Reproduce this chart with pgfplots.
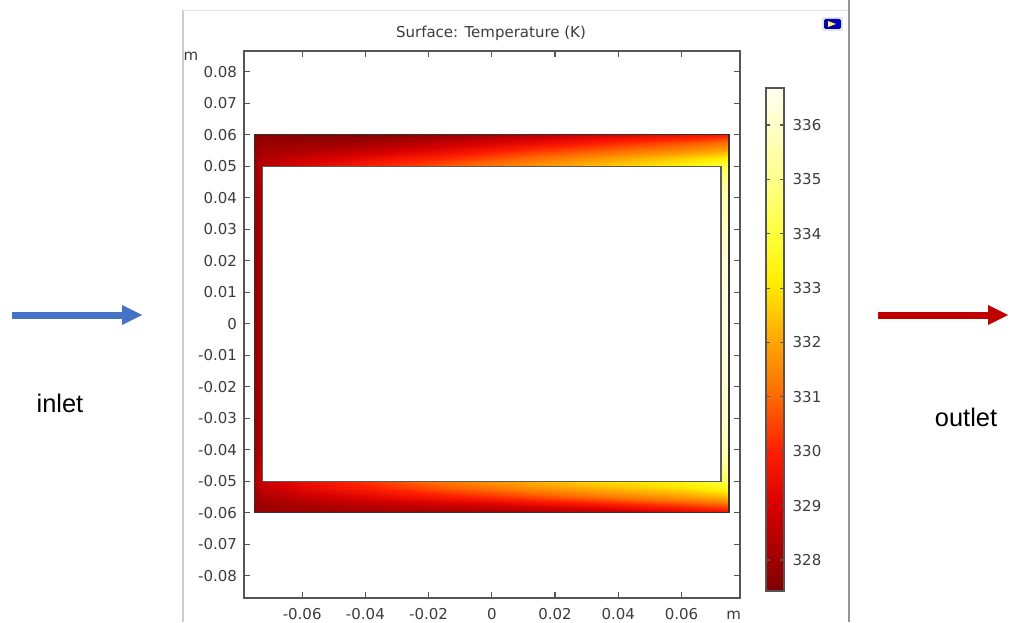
\documentclass[border=0pt]{standalone}
\usepackage{pgfplots}
\pgfplotsset{compat=1.18}
\usepackage{fontspec}
\setmainfont{DejaVu Sans}
\newfontfamily\arial{Liberation Sans}
\usetikzlibrary{calc}
\definecolor{axgray}{RGB}{85,85,85}
\definecolor{labgray}{RGB}{60,60,60}
\definecolor{outl}{RGB}{50,50,50}
\definecolor{innerl}{RGB}{90,90,90}
\definecolor{inletblue}{RGB}{68,114,196}
\definecolor{outletred}{RGB}{192,0,0}
\definecolor{framegray}{RGB}{205,205,205}
\definecolor{framegrayR}{RGB}{150,150,150}
\pgfplotsset{
  colormap={comsolheat}{
    rgb255(0pt)=(128,0,0)
    rgb255(57pt)=(160,0,0)
    rgb255(157pt)=(215,0,0)
    rgb255(257pt)=(255,30,0)
    rgb255(357pt)=(255,105,0)
    rgb255(457pt)=(255,165,0)
    rgb255(572pt)=(255,240,0)
    rgb255(657pt)=(255,255,60)
    rgb255(757pt)=(255,255,140)
    rgb255(857pt)=(255,255,200)
    rgb255(925pt)=(255,255,240)
  }
}
\begin{document}
\begin{tikzpicture}
\path[use as bounding box] (0pt,0pt) rectangle (505.5pt,311pt);
% window frame of the screenshot
\draw[framegray, line width=0.8pt] (91.5pt,0pt) -- (91.5pt,306pt);
\draw[framegray!60, line width=0.4pt] (91.5pt,306pt) -- (424.5pt,306pt);
\draw[framegrayR, line width=0.8pt] (424.5pt,0pt) -- (424.5pt,311pt);
% icon
\fill[framegray!50] (411pt,295.5pt) rectangle (421.5pt,302.5pt);
\fill[rounded corners=1pt, blue!70!black] (412pt,296.5pt) rectangle (420.5pt,301.5pt);
\fill[yellow!60] (414pt,297.5pt) -- (418pt,299pt) -- (414pt,300.5pt) -- cycle;
% arrows and labels
\fill[inletblue] (6pt,151.75pt) rectangle (61pt,155.25pt);
\fill[inletblue] (61pt,158.5pt) -- (71pt,153.5pt) -- (61pt,148.5pt) -- cycle;
\fill[outletred] (439pt,151.75pt) rectangle (494pt,155.25pt);
\fill[outletred] (494pt,158.5pt) -- (504pt,153.5pt) -- (494pt,148.5pt) -- cycle;
\node[anchor=base, inner sep=0pt, font=\arial\fontsize{12.7}{15}\selectfont, text=black] at (30pt,104.6pt) {inlet};
\node[anchor=base, inner sep=0pt, font=\arial\fontsize{12.7}{15}\selectfont, text=black] at (483pt,97.6pt) {outlet};
% title and axis unit labels
\node[font=\fontsize{7.5}{9}\selectfont, text=labgray] at (245.5pt,294.5pt) {Surface: Temperature (K)};
\node[font=\fontsize{7.5}{9}\selectfont, text=labgray] at (95.5pt,283pt) {m};

\begin{axis}[
  at={(122pt,12pt)}, anchor=south west,
  scale only axis, width=248pt, height=273.5pt,
  xmin=-0.0784, xmax=0.0785, ymin=-0.0871, ymax=0.0866,
  scaled x ticks=false, scaled y ticks=false,
  axis line style={axgray, line width=0.6pt},
  every tick/.style={axgray, line width=0.6pt},
  tick align=inside, major tick length=3pt,
  xtick={-0.06,-0.04,-0.02,0,0.02,0.04,0.06},
  xticklabels={-0.06,-0.04,-0.02,0,0.02,0.04,0.06},
  ytick={-0.08,-0.07,-0.06,-0.05,-0.04,-0.03,-0.02,-0.01,0,0.01,0.02,0.03,0.04,0.05,0.06,0.07,0.08},
  yticklabels={-0.08,-0.07,-0.06,-0.05,-0.04,-0.03,-0.02,-0.01,0,0.01,0.02,0.03,0.04,0.05,0.06,0.07,0.08},
  tick label style={font=\fontsize{7.5}{9}\selectfont, text=labgray},
  xticklabel style={inner sep=0.5pt, yshift=-4.25pt},
  /pgf/number format/assume math mode=true,
  colormap name=comsolheat,
  point meta min=327.43, point meta max=336.68,
  colorbar,
  colorbar shift/.style={},
  colorbar style={
    at={($(parent axis.north east)+(13pt,-18.5pt)$)}, anchor=north west,
    scale only axis, width=9pt, height=251.5pt,
    ytick={328,329,330,331,332,333,334,335,336},
    yticklabels={328,329,330,331,332,333,334,335,336},
    ytick pos=both, yticklabel pos=right,
    tick align=inside, major tick length=2pt,
    axis line style={axgray, line width=0.6pt},
    every tick/.style={axgray, line width=0.6pt},
    yticklabel style={font=\fontsize{7.5}{9}\selectfont, text=labgray, xshift=0.8pt},
  },
  clip=false,
]
% top wall
\addplot[surf, shader=interp, point meta=explicit, mesh/rows=5, mesh/cols=13] table[x=x, y=y, meta=T] {
x y T
-0.075 0.06 327.7
-0.0725 0.06 327.7
-0.06 0.06 327.6
-0.045 0.06 327.6
-0.03 0.06 327.7
-0.015 0.06 327.9
0 0.06 328.2
0.015 0.06 328.6
0.03 0.06 329.0
0.045 0.06 329.3
0.06 0.06 329.6
0.0725 0.06 329.9
0.075 0.06 330.0
-0.075 0.0575 327.8
-0.0725 0.0575 327.9
-0.06 0.0575 327.9
-0.045 0.0575 328.0
-0.03 0.0575 328.3
-0.015 0.0575 328.7
0 0.0575 329.1
0.015 0.0575 329.5
0.03 0.0575 329.9
0.045 0.0575 330.3
0.06 0.0575 330.7
0.0725 0.0575 331.1
0.075 0.0575 331.2
-0.075 0.055 327.9
-0.0725 0.055 328.1
-0.06 0.055 328.3
-0.045 0.055 328.6
-0.03 0.055 329.0
-0.015 0.055 329.4
0 0.055 329.9
0.015 0.055 330.4
0.03 0.055 330.8
0.045 0.055 331.2
0.06 0.055 331.6
0.0725 0.055 332.0
0.075 0.055 332.2
-0.075 0.0525 328.0
-0.0725 0.0525 328.3
-0.06 0.0525 328.8
-0.045 0.0525 329.2
-0.03 0.0525 329.7
-0.015 0.0525 330.1
0 0.0525 330.6
0.015 0.0525 331.1
0.03 0.0525 331.6
0.045 0.0525 332.1
0.06 0.0525 332.6
0.0725 0.0525 333.1
0.075 0.0525 333.4
-0.075 0.05 328.1
-0.0725 0.05 328.5
-0.06 0.05 329.2
-0.045 0.05 329.8
-0.03 0.05 330.3
-0.015 0.05 330.8
0 0.05 331.3
0.015 0.05 331.8
0.03 0.05 332.3
0.045 0.05 332.8
0.06 0.05 333.3
0.0725 0.05 334.0
0.075 0.05 334.5
};
% bottom wall
\addplot[surf, shader=interp, point meta=explicit, mesh/rows=5, mesh/cols=13] table[x=x, y=y, meta=T] {
x y T
-0.075 -0.06 327.8
-0.0725 -0.06 327.9
-0.06 -0.06 327.9
-0.045 -0.06 328.0
-0.03 -0.06 328.0
-0.015 -0.06 328.0
0 -0.06 328.0
0.015 -0.06 328.1
0.03 -0.06 328.3
0.045 -0.06 328.6
0.06 -0.06 329.0
0.0725 -0.06 329.4
0.075 -0.06 329.5
-0.075 -0.0575 327.9
-0.0725 -0.0575 328.0
-0.06 -0.0575 328.2
-0.045 -0.0575 328.4
-0.03 -0.0575 328.6
-0.015 -0.0575 328.8
0 -0.0575 329.0
0.015 -0.0575 329.3
0.03 -0.0575 329.6
0.045 -0.0575 330.0
0.06 -0.0575 330.4
0.0725 -0.0575 330.8
0.075 -0.0575 331.0
-0.075 -0.055 328.0
-0.0725 -0.055 328.3
-0.06 -0.055 328.7
-0.045 -0.055 329.1
-0.03 -0.055 329.5
-0.015 -0.055 329.8
0 -0.055 330.2
0.015 -0.055 330.6
0.03 -0.055 331.0
0.045 -0.055 331.4
0.06 -0.055 331.8
0.0725 -0.055 332.2
0.075 -0.055 332.4
-0.075 -0.0525 328.2
-0.0725 -0.0525 328.6
-0.06 -0.0525 329.2
-0.045 -0.0525 329.7
-0.03 -0.0525 330.2
-0.015 -0.0525 330.7
0 -0.0525 331.1
0.015 -0.0525 331.6
0.03 -0.0525 332.0
0.045 -0.0525 332.4
0.06 -0.0525 332.8
0.0725 -0.0525 333.3
0.075 -0.0525 333.6
-0.075 -0.05 328.3
-0.0725 -0.05 328.8
-0.06 -0.05 329.5
-0.045 -0.05 330.1
-0.03 -0.05 330.7
-0.015 -0.05 331.3
0 -0.05 331.8
0.015 -0.05 332.3
0.03 -0.05 332.8
0.045 -0.05 333.1
0.06 -0.05 333.5
0.0725 -0.05 334.1
0.075 -0.05 334.6
};
% left wall
\addplot[surf, shader=interp, point meta=explicit, mesh/rows=7, mesh/cols=2] table[x=x, y=y, meta=T] {
x y T
-0.075 -0.05 328.3
-0.0725 -0.05 328.8
-0.075 -0.04 328.0
-0.0725 -0.04 328.3
-0.075 -0.02 327.9
-0.0725 -0.02 328.1
-0.075 0 327.9
-0.0725 0 328.0
-0.075 0.02 327.9
-0.0725 0.02 328.1
-0.075 0.04 327.95
-0.0725 0.04 328.2
-0.075 0.05 328.1
-0.0725 0.05 328.5
};
% right wall
\addplot[surf, shader=interp, point meta=explicit, mesh/rows=9, mesh/cols=2] table[x=x, y=y, meta=T] {
x y T
0.0725 -0.05 334.1
0.075 -0.05 334.6
0.0725 -0.045 335.0
0.075 -0.045 335.4
0.0725 -0.04 335.6
0.075 -0.04 335.9
0.0725 -0.02 336.1
0.075 -0.02 336.3
0.0725 0 336.3
0.075 0 336.5
0.0725 0.02 336.1
0.075 0.02 336.3
0.0725 0.04 335.5
0.075 0.04 335.8
0.0725 0.045 334.9
0.075 0.045 335.3
0.0725 0.05 334.0
0.075 0.05 334.5
};
% outlines of the domain
\addplot[draw=outl, line width=0.6pt, mark=none] coordinates {(-0.075,-0.06) (0.075,-0.06) (0.075,0.06) (-0.075,0.06) (-0.075,-0.06)};
\addplot[draw=innerl, line width=0.6pt, mark=none] coordinates {(-0.0725,-0.05) (0.0725,-0.05) (0.0725,0.05) (-0.0725,0.05) (-0.0725,-0.05)};
\node[anchor=north, inner sep=0.5pt, yshift=-4.25pt, font=\fontsize{7.5}{9}\selectfont, text=labgray] at (axis cs:0.0765,-0.0871) {\vphantom{0}m};
\end{axis}
\end{tikzpicture}
\end{document}
